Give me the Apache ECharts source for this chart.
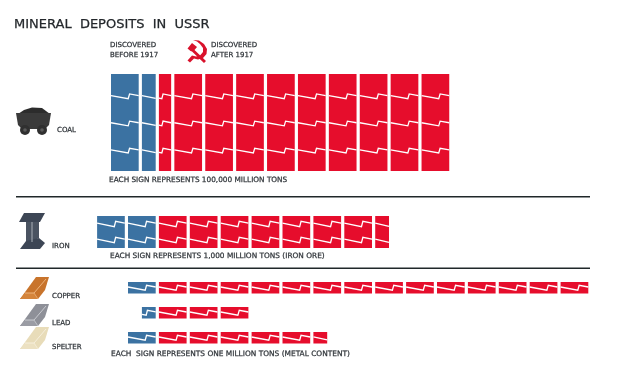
<!DOCTYPE html>
<html>
<head>
<meta charset="utf-8">
<style>html,body{margin:0;padding:0;background:#fff}#c{width:620px;height:372px}</style>
<script src="https://cdn.jsdelivr.net/npm/echarts@6/dist/echarts.min.js"></script>
</head>
<body>
<div id="c"></div>
<script>
// Each number is one sign (or the part of a sign that is drawn).
var categories = ['COAL', 'IRON', 'COPPER', 'LEAD', 'SPELTER'];
var coalBefore = [1, 0.55];
var coalAfter = [0.5, 1, 1, 1, 1, 1, 1, 1, 1, 1];
var ironBefore = [1, 1];
var ironAfter = [1, 1, 1, 1, 1, 1, 1, 0.55];
var copperBefore = [1];
var copperAfter = [1, 1, 1, 1, 1, 1, 1, 1, 1, 1, 1, 1, 1, 1];
var leadBefore = [0.55];
var leadAfter = [1, 1, 1];
var spelterBefore = [1];
var spelterAfter = [1, 1, 1, 1, 1, 0.55];
var beforeName = 'DISCOVERED BEFORE 1917';
var afterName = 'DISCOVERED AFTER 1917';

var before = [coalBefore, ironBefore, copperBefore, leadBefore, spelterBefore];
var after = [coalAfter, ironAfter, copperAfter, leadAfter, spelterAfter];
var rowFrames = [[74, 97], [216, 32], [282, 11.5], [307, 11.5], [332, 11.5]];
var rowLines = [[0.23, 0.51, 0.79], [0.25, 0.75], [0.5], [0.5], [0.5]];
var rowAmp = [4.7, 5.4, 5, 5, 5];
var BLUE = '#3b72a2', RED = '#e60d2c', INK = '#30353a', FONT = 'DejaVu Sans, sans-serif';

function sum(a) { return a.reduce(function (s, v) { return s + v; }, 0); }

// Turn a list of signs into [start, end, uFrom, uTo] items on the sign axis.
function signItems(signs, origin) {
  var x = origin, out = [];
  signs.forEach(function (f, i) {
    var isTail = i === 0 && f < 1;
    out.push([x, x + f, isTail ? 1 - f : 0, isTail ? 1 : f]);
    x += f;
  });
  return out;
}

// Saw-tooth profile of the white break line, u in sign widths, result in -0.5..0.5.
var STEP_A = 0.62, STEP_B = 0.67;
function saw(u) {
  if (u <= STEP_A) return (u + 1 - STEP_B) / (1 + STEP_A - STEP_B) - 0.5;
  if (u >= STEP_B) return (u - STEP_B) / (1 + STEP_A - STEP_B) - 0.5;
  return 0.5 - (u - STEP_A) / (STEP_B - STEP_A);
}

function renderer(row, color) {
  return function (params, api) {
    var a = api.coord([api.value(0), 0]);
    var b = api.coord([api.value(1), 0]);
    var h = api.size([0, 1])[1];
    var inset = 1.6;
    var x0 = a[0] + inset, x1 = b[0] - inset, top = a[1] - h / 2;
    var u0 = api.value(2), u1 = api.value(3);
    var children = [{ type: 'rect', shape: { x: x0, y: top, width: x1 - x0, height: h }, style: { fill: color } }];
    rowLines[row].forEach(function (fr) {
      var us = [u0];
      [STEP_A, STEP_B].forEach(function (s) { if (s > u0 && s < u1) us.push(s); });
      us.push(u1);
      var pts = us.map(function (u) {
        return [x0 + (u - u0) / (u1 - u0) * (x1 - x0), top + fr * h + saw(u) * rowAmp[row]];
      });
      children.push({ type: 'polyline', shape: { points: pts }, style: { fill: null, stroke: '#fff', lineWidth: 1.3 } });
    });
    return { type: 'group', children: children };
  };
}

var grids = [], xAxes = [], yAxes = [], series = [];
categories.forEach(function (name, i) {
  grids.push({ left: 95.5, width: 494.4, top: rowFrames[i][0], height: rowFrames[i][1] });
  xAxes.push({ type: 'value', gridIndex: i, min: -2, max: 14, show: false });
  yAxes.push({ type: 'category', gridIndex: i, data: [name], show: false });
  [[before[i], -sum(before[i]), BLUE, beforeName], [after[i], 0, RED, afterName]].forEach(function (s) {
    series.push({
      type: 'custom', name: s[3], xAxisIndex: i, yAxisIndex: i, silent: true,
      encode: { x: [0, 1] }, renderItem: renderer(i, s[2]), data: signItems(s[0], s[1])
    });
  });
});

function txt(x, y, text, size, color) {
  return { type: 'text', x: x, y: y, style: {
    text: text, font: (size || 7) + 'px ' + FONT, fill: color || INK,
    stroke: color || INK, lineWidth: 0.25, verticalAlign: 'middle'
  } };
}
function poly(points, fill) { return { type: 'polygon', shape: { points: points }, style: { fill: fill } }; }
function line(points, stroke, w) { return { type: 'polyline', shape: { points: points }, style: { fill: null, stroke: stroke, lineWidth: w || 1 } }; }
function rule(y) { return { type: 'rect', shape: { x: 16, y: y, width: 574, height: 1.6 }, style: { fill: '#20282a' } }; }
function ingot(dy, body, light, shade) {
  function p(a) { return a.map(function (q) { return [q[0], q[1] + dy]; }); }
  return { type: 'group', children: [
    poly(p([[36, 277], [49, 277], [45, 290], [38, 299], [20, 299], [28, 288]]), body),
    poly(p([[20, 299], [25, 293], [34, 293], [38, 299]]), shade),
    line(p([[25, 293], [34, 293], [46, 279]]), light, 1),
    line(p([[34, 293], [38, 299]]), light, 0.8)
  ] };
}

var graphics = [
  txt(14, 25, 'MINERAL  DEPOSITS  IN  USSR', 13, '#23272b'),
  txt(110, 45, 'DISCOVERED'), txt(110, 55.5, 'BEFORE 1917'),
  txt(211, 45, 'DISCOVERED'), txt(211, 55.5, 'AFTER 1917'),
  // hammer and sickle
  poly([[193, 40], [199, 40.5], [204, 44], [207, 49], [206.5, 54], [203, 58], [198, 59.5], [194, 58.5], [190, 62.5], [187.5, 60.5], [192, 55.5], [196, 56.5], [200, 55.5], [203, 52], [203, 48], [200, 44], [197, 41.5]], '#d9122c'),
  poly([[187.5, 48.5], [192, 43], [197, 47], [194.5, 50], [206, 61], [204, 63], [192, 51.5], [190.5, 51]], '#d9122c'),
  // coal wagon
  poly([[18, 114], [24, 110], [32, 107.5], [42, 108], [50, 114]], '#2c2c2c'),
  poly([[16, 113], [51, 113], [49, 125], [45, 129], [22, 129], [18, 125]], '#3a3a3a'),
  { type: 'circle', shape: { cx: 25, cy: 130, r: 5 }, style: { fill: '#303030' } },
  { type: 'circle', shape: { cx: 42, cy: 130, r: 5 }, style: { fill: '#303030' } },
  { type: 'circle', shape: { cx: 25, cy: 130, r: 1.8 }, style: { fill: '#5a5a5a' } },
  { type: 'circle', shape: { cx: 42, cy: 130, r: 1.8 }, style: { fill: '#5a5a5a' } },
  // iron beam
  poly([[24, 213], [45, 213], [40, 222], [19, 222]], '#3d4655'),
  poly([[26, 222], [39, 222], [39, 238], [26, 244]], '#4a5361'),
  poly([[26, 241], [39, 238], [45, 243], [40, 249], [20, 249]], '#3d4655'),
  line([[32, 222], [32, 242]], '#a9b0b8', 1),
  // ingots
  ingot(0, '#c8742c', '#eeb47c', '#d5853c'),
  ingot(27, '#8e9098', '#c9cbd0', '#9a9ca4'),
  ingot(50, '#e8dcb9', '#f6efdc', '#ece1c2'),
  rule(196), rule(267.5),
  txt(57, 130, categories[0]),
  txt(52, 246, categories[1]),
  txt(52, 296.5, categories[2]),
  txt(52, 323, categories[3]),
  txt(52, 347, categories[4]),
  txt(109, 180.5, 'EACH SIGN REPRESENTS 100,000 MILLION TONS', 7.33),
  txt(110, 256, 'EACH SIGN REPRESENTS 1,000 MILLION TONS (IRON ORE)', 7.38),
  txt(111, 354, 'EACH  SIGN REPRESENTS ONE MILLION TONS (METAL CONTENT)', 7.43)
];

var chart = echarts.init(document.getElementById('c'), null, { renderer: 'canvas' });
chart.setOption({
  animation: false,
  backgroundColor: '#fff',
  grid: grids, xAxis: xAxes, yAxis: yAxes, series: series,
  graphic: { elements: graphics }
});
</script>
</body>
</html>
